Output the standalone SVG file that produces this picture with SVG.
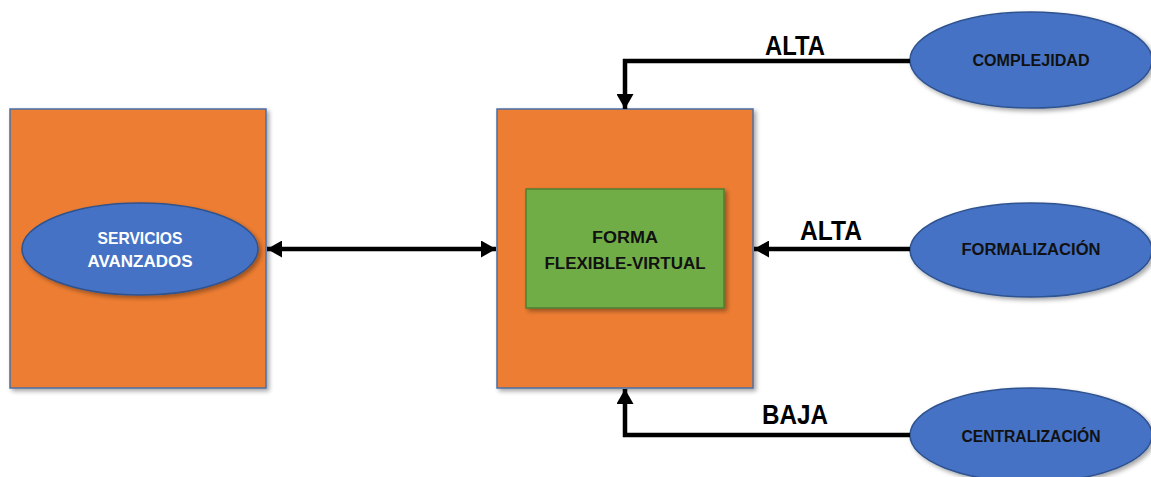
<svg xmlns="http://www.w3.org/2000/svg" width="1151" height="477" viewBox="0 0 1151 477">
<defs>
<style>
.box{fill:#ED7D31;stroke:#4A6FA5;stroke-width:1.5;filter:url(#sh)}
.ell{fill:#4472C4;stroke:#2F528F;stroke-width:1.5;filter:url(#sh)}
.green{fill:#70AD47;stroke:#507E32;stroke-width:1.5;filter:url(#sh)}
.lbl{font-family:"Liberation Sans",Arial,sans-serif;font-weight:bold;text-anchor:middle}
.w{fill:#FFFFFF;font-size:17px}
.k{fill:#111111;font-size:16px}
.big{fill:#000000;font-size:27px}
.con{fill:none;stroke:#000000;stroke-width:4.5}
</style>
<filter id="sh" x="-10%" y="-10%" width="125%" height="125%">
<feDropShadow dx="2.5" dy="2.5" stdDeviation="2" flood-color="#000000" flood-opacity="0.35"/>
</filter>
<marker id="ah" markerUnits="userSpaceOnUse" markerWidth="15" markerHeight="17" viewBox="0 0 15 17" refX="15" refY="8.5" orient="auto-start-reverse">
<path d="M0,0 L15,8.5 L0,17 Z" fill="#000000"/>
</marker>
</defs>
<rect width="1151" height="477" fill="#FFFFFF"/>

<g id="servicios-box">
<rect class="box" x="10" y="109" width="256" height="279"/>
</g>
<g id="servicios-avanzados">
<ellipse class="ell" cx="140" cy="249" rx="118" ry="46"/>
<text class="lbl w" x="140" y="244" textLength="85" lengthAdjust="spacingAndGlyphs">SERVICIOS</text>
<text class="lbl w" x="140" y="267" textLength="105" lengthAdjust="spacingAndGlyphs">AVANZADOS</text>
</g>
<g id="forma-box">
<rect class="box" x="497" y="109" width="256" height="279"/>
</g>
<g id="forma-flexible-virtual">
<rect class="green" x="526" y="189" width="198" height="119"/>
<text class="lbl k" x="625" y="243" textLength="66" lengthAdjust="spacingAndGlyphs">FORMA</text>
<text class="lbl k" x="625" y="269" textLength="161" lengthAdjust="spacingAndGlyphs">FLEXIBLE-VIRTUAL</text>
</g>
<g id="complejidad">
<ellipse class="ell" cx="1031" cy="60" rx="121" ry="48"/>
<text class="lbl k" x="1031" y="66" textLength="117" lengthAdjust="spacingAndGlyphs">COMPLEJIDAD</text>
</g>
<g id="formalizacion">
<ellipse class="ell" cx="1031" cy="250" rx="121" ry="47"/>
<text class="lbl k" x="1031" y="255" textLength="139" lengthAdjust="spacingAndGlyphs">FORMALIZACIÓN</text>
</g>
<g id="centralizacion">
<ellipse class="ell" cx="1031" cy="435" rx="121" ry="47"/>
<text class="lbl k" x="1031" y="442" textLength="139" lengthAdjust="spacingAndGlyphs">CENTRALIZACIÓN</text>
</g>

<g id="connectors">
<line class="con" x1="267" y1="249" x2="496" y2="249" marker-start="url(#ah)" marker-end="url(#ah)"/>
<polyline class="con" points="910,61 625,61 625,109" marker-end="url(#ah)"/>
<line class="con" x1="910" y1="249" x2="754" y2="249" marker-end="url(#ah)"/>
<polyline class="con" points="910,435 625,435 625,389" marker-end="url(#ah)"/>
<text class="lbl big" x="795" y="55" textLength="60" lengthAdjust="spacingAndGlyphs">ALTA</text>
<text class="lbl big" x="831" y="240" textLength="62" lengthAdjust="spacingAndGlyphs">ALTA</text>
<text class="lbl big" x="795" y="424" textLength="66" lengthAdjust="spacingAndGlyphs">BAJA</text>
</g>
</svg>
